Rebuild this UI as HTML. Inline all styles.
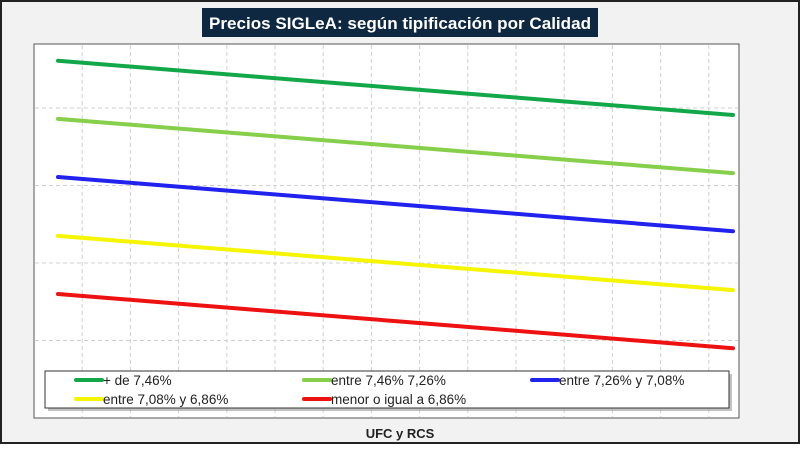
<!DOCTYPE html>
<html><head><meta charset="utf-8"><style>
body{margin:0;width:800px;height:444px;overflow:hidden;font-family:"Liberation Sans",sans-serif;}
</style></head><body>
<svg width="800" height="444" xmlns="http://www.w3.org/2000/svg">
<rect x="1" y="1" width="798" height="442" fill="#f2f2f2" stroke="#222" stroke-width="2"/>
<rect x="202" y="8" width="396" height="29" fill="#0e2841"/>
<text x="400" y="29" text-anchor="middle" fill="#fff" font-size="17" font-weight="bold" textLength="382" lengthAdjust="spacingAndGlyphs">Precios SIGLeA: según tipificación por Calidad</text>
<rect x="34" y="44" width="705" height="374" fill="#fff" stroke="#555" stroke-width="1"/>
<g id="grid"></g>
<g id="series"></g>
<g>
<rect x="48" y="374" width="684" height="37" fill="#999" opacity="0.6"/>
<rect x="45" y="371" width="684" height="37" fill="#fff" stroke="#333" stroke-width="1"/>
<g id="legend"></g>
</g>
<text x="400" y="438" text-anchor="middle" font-size="13" font-weight="bold" fill="#222">UFC y RCS</text>
</svg>
<script>
const categories=[1,2,3,4,5,6,7,8,9,10,11,12,13,14,15];
const seriesNames=["+ de 7,46%","entre 7,46% 7,26%","entre 7,26% y 7,08%","entre 7,08% y 6,86%","menor o igual a 6,86%"];
const seriesColors=["#12a84a","#86cf4a","#2222ee","#f5f500","#ee1111"];
const s1=[4.61,4.56,4.51,4.46,4.41,4.36,4.31,4.26,4.21,4.16,4.11,4.06,4.01,3.96,3.91];
const s2=[3.86,3.81,3.76,3.71,3.66,3.61,3.56,3.51,3.46,3.41,3.36,3.31,3.26,3.21,3.16];
const s3=[3.11,3.06,3.01,2.96,2.91,2.86,2.81,2.76,2.71,2.66,2.61,2.56,2.51,2.46,2.41];
const s4=[2.35,2.30,2.25,2.20,2.15,2.10,2.05,2.00,1.95,1.90,1.85,1.80,1.75,1.70,1.65];
const s5=[1.60,1.55,1.50,1.45,1.40,1.35,1.30,1.25,1.20,1.15,1.10,1.05,1.00,0.95,0.90];
const yTicks=[1,2,3,4];
const allSeries=[s1,s2,s3,s4,s5];
const NS="http://www.w3.org/2000/svg";
function xs(i){return 58+i*(675/(categories.length-1));}
function ys(v){return 418-v*77.5;}
const grid=document.getElementById('grid');
for(const t of yTicks){const l=document.createElementNS(NS,'line');
l.setAttribute('x1',35);l.setAttribute('x2',738);l.setAttribute('y1',ys(t));l.setAttribute('y2',ys(t));
l.setAttribute('stroke','#d0d0d0');l.setAttribute('stroke-dasharray','4 3');


grid.appendChild(l);}
for(let k=1;k<15;k++){const x=34+k*48.2;if(x>738)break;const l=document.createElementNS(NS,'line');
l.setAttribute('x1',x);l.setAttribute('x2',x);l.setAttribute('y1',45);l.setAttribute('y2',417);
l.setAttribute('stroke','#d0d0d0');l.setAttribute('stroke-dasharray','4 3');


grid.appendChild(l);}
const sg=document.getElementById('series');
allSeries.forEach((s,j)=>{const p=document.createElementNS(NS,'polyline');
p.setAttribute('points',s.map((v,i)=>xs(i)+','+ys(v)).join(' '));
p.setAttribute('fill','none');p.setAttribute('stroke',seriesColors[j]);p.setAttribute('stroke-width','4');p.setAttribute('stroke-linecap','round');


sg.appendChild(p);});
const lg=document.getElementById('legend');
const pos=[[76,380],[304,380],[532,380],[76,399],[304,399]];
seriesNames.forEach((n,j)=>{const g=document.createElementNS(NS,'g');


const [x,y]=pos[j];
const l=document.createElementNS(NS,'line');l.setAttribute('x1',x);l.setAttribute('x2',x+26);l.setAttribute('y1',y);l.setAttribute('y2',y);
l.setAttribute('stroke',seriesColors[j]);l.setAttribute('stroke-width','4');l.setAttribute('stroke-linecap','round');g.appendChild(l);
const t=document.createElementNS(NS,'text');t.setAttribute('x',x+27);t.setAttribute('y',y+5);t.setAttribute('font-size','13.5');t.setAttribute('fill','#222');t.textContent=n;g.appendChild(t);
lg.appendChild(g);});
</script>
</body></html>
